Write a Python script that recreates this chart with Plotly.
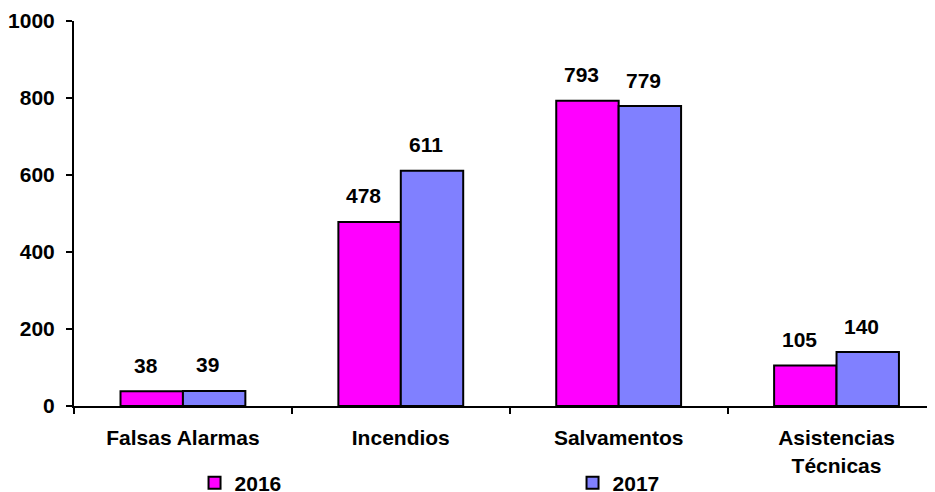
import plotly.graph_objects as go

categories = ["Falsas Alarmas", "Incendios", "Salvamentos", "Asistencias<br>Técnicas"]
series_names = ["2016", "2017"]
values_2016 = [38, 478, 793, 105]
values_2017 = [39, 611, 779, 140]
y_ticks = [0, 200, 400, 600, 800, 1000]

colors = ["#FF00FF", "#8080FF"]
FAM = "Arial, Liberation Sans, sans-serif"
FONT = dict(family=FAM, size=21, color="black")

fig = go.Figure()
for name, vals, col in zip(series_names, [values_2016, values_2017], colors):
    fig.add_trace(go.Bar(
        x=categories, y=vals, name=name,
        marker=dict(color=col, line=dict(color="black", width=2)),
    ))

annotations = []
for i, vals in enumerate([values_2016, values_2017]):
    for c, v in zip(categories, vals):
        annotations.append(dict(
            x=c, y=v, xref="x", yref="y", text="<b>%d</b>" % v, showarrow=False,
            xshift=(-31 if i == 0 else 31) - 6, yshift=26, yanchor="middle",
            font=FONT,
        ))

fig.update_layout(
    width=935, height=492,
    margin=dict(l=65.5, r=8, t=12.5, b=94, autoexpand=False),
    paper_bgcolor="white", plot_bgcolor="white",
    bargap=0.427, bargroupgap=0,
    font=FONT,
    annotations=annotations,
    showlegend=True,
    legend=dict(
        orientation="h", xref="container", yref="paper",
        x=0.1995, y=-0.2, xanchor="left", yanchor="middle",
        entrywidthmode="pixels", entrywidth=333,
        font=dict(family=FAM, size=21, color="black", weight="bold"),
        itemwidth=30, bgcolor="rgba(0,0,0,0)",
    ),
    xaxis=dict(
        range=[-0.5, 3.452], showline=True, linecolor="black", linewidth=2,
        ticks="outside", tickson="boundaries", ticklen=6, tickwidth=2, tickcolor="black",
        showgrid=False, ticklabelstandoff=12, automargin=False,
        tickfont=dict(family=FAM, size=21, color="black", weight="bold"),
    ),
    yaxis=dict(
        range=[0, 1000], tickvals=y_ticks, showline=True, linecolor="black", linewidth=2,
        ticks="outside", ticklen=6, tickwidth=2, tickcolor="black", showgrid=False,
        zeroline=False, ticklabelstandoff=7, automargin=False,
        tickfont=dict(family=FAM, size=21, color="black", weight="bold"),
    ),
)
fig.write_html("out.html")
